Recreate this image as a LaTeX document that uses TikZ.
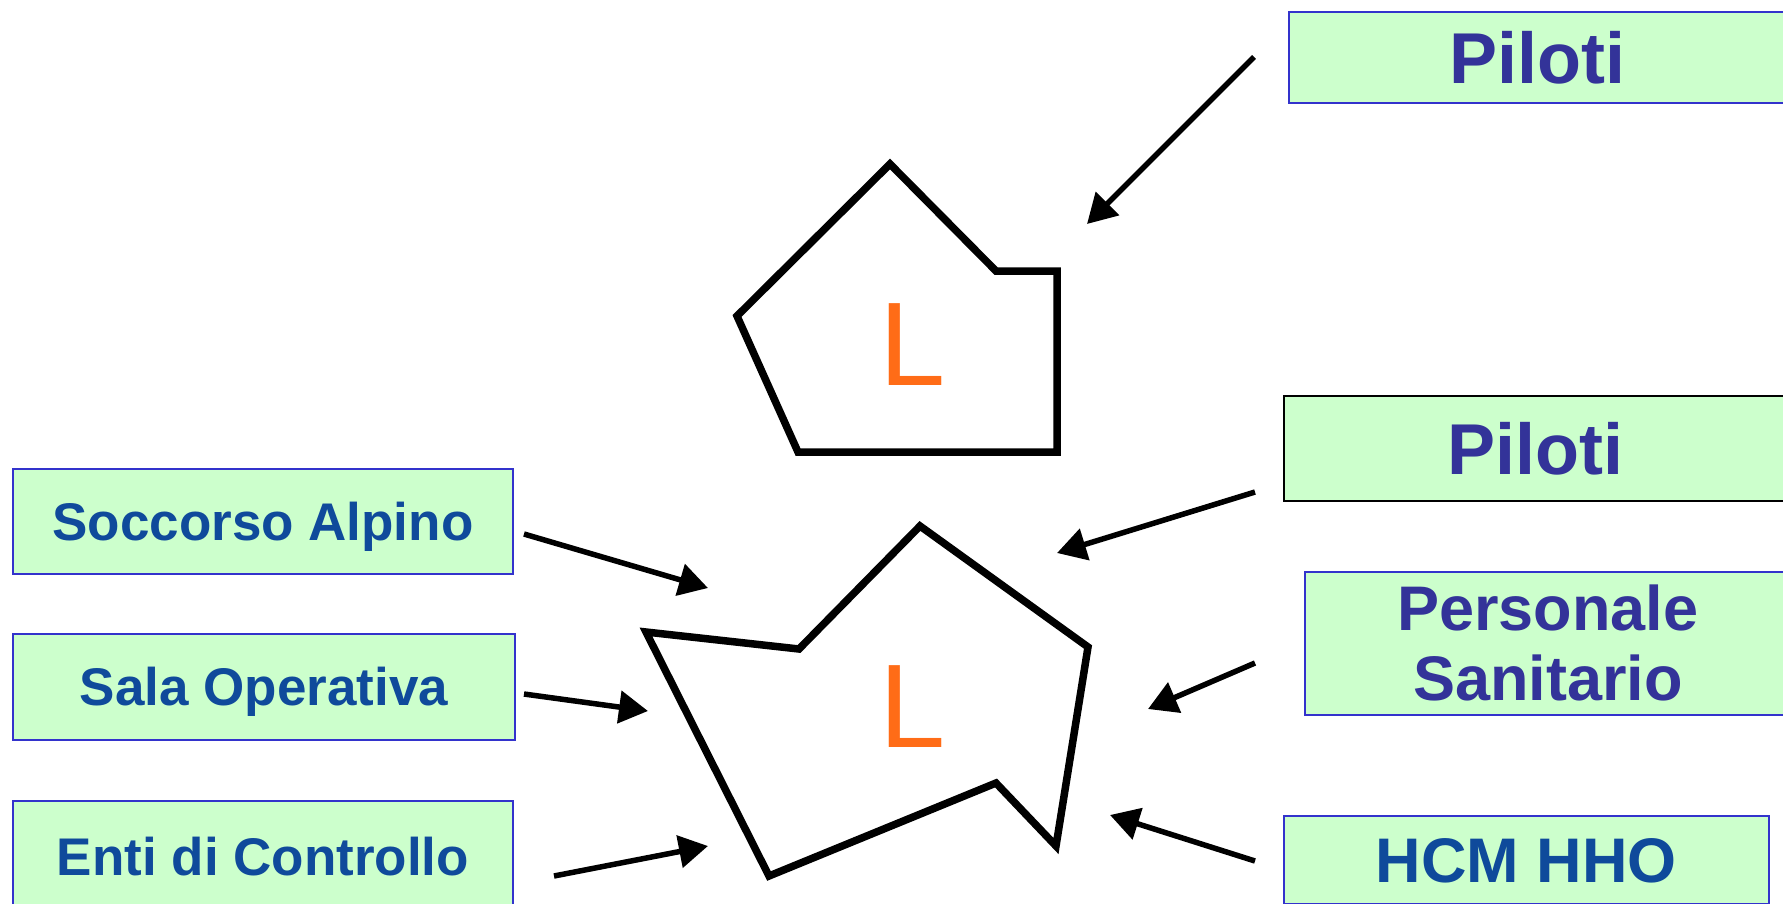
\documentclass[tikz,border=0pt]{standalone}
\usepackage{fontspec}
\setmainfont{Liberation Sans}
\usetikzlibrary{arrows.meta}
\definecolor{boxfill}{HTML}{CCFFCC}
\definecolor{boxline}{HTML}{3333CC}
\definecolor{txtA}{HTML}{333399}
\definecolor{txtB}{HTML}{0F4A9B}
\definecolor{lorange}{HTML}{FF6C17}
\begin{document}
\begin{tikzpicture}[x=1pt,y=-1pt,
  box/.style={draw=boxline, line width=1.8pt, fill=boxfill, anchor=north west,
    inner sep=0pt, text depth=0pt},
  bigtxt/.style={font=\fontsize{72}{80}\selectfont\bfseries, text=txtA, text height=51.5pt},
  midtxt/.style={font=\fontsize{63}{70}\selectfont\bfseries},
  smalltxt/.style={font=\fontsize{53}{60}\selectfont\bfseries, text=txtB, text height=38pt},
  arr/.style={line width=5.5pt, -{Triangle[length=29pt,width=32pt]}},
  poly/.style={line width=7.5pt, line join=miter},
  lett/.style={font=\fontsize{119}{130}\selectfont, text=lorange, anchor=base, inner sep=0pt}
]
\useasboundingbox (0,0) rectangle (1783,903);

% right boxes
\node[box, bigtxt, minimum width=498pt, minimum height=91pt] (pil1) at (1288,11) {Piloti};
\node[box, bigtxt, draw=black, minimum width=504pt, minimum height=105pt] (pil2) at (1283,395) {Piloti};
\node[draw=boxline, line width=1.8pt, fill=boxfill, anchor=north west, inner sep=0pt,
  midtxt, text=txtA, align=center, minimum width=486pt, minimum height=143pt] (pers) at (1304,571) {Personale\\Sanitario};
\node[box, midtxt, text=txtB, text height=45pt, minimum width=485pt, minimum height=88pt] (hcm) at (1283,815) {HCM HHO};

% left boxes
\node[box, smalltxt, minimum width=500pt, minimum height=105pt] (socc) at (12,468) {Soccorso Alpino};
\node[box, smalltxt, minimum width=502pt, minimum height=106pt] (sala) at (12,633) {Sala Operativa};
\node[box, smalltxt, minimum width=500pt, minimum height=112pt] (enti) at (12,800) {Enti di Controllo};

% polygons
\draw[poly] (890,164) -- (996,271) -- (1057,271) -- (1057,452) -- (798,452) -- (737,316) -- cycle;
\draw[poly] (646,632) -- (799,649) -- (920,526) -- (1088,647) -- (1056,846) -- (996,783) -- (769,876) -- cycle;

\node[lett] (l1) at (913,385) {L};
\node[lett] (l2) at (913,747) {L};

% arrow endpoints
\coordinate (a1s) at (1254,57);   \coordinate (a1e) at (1087,224);
\coordinate (a2s) at (1255,492);  \coordinate (a2e) at (1057,553);
\coordinate (a3s) at (1255,663);  \coordinate (a3e) at (1148,709);
\coordinate (a4s) at (1255,861);  \coordinate (a4e) at (1110,815);
\coordinate (b1s) at (524,534);   \coordinate (b1e) at (708,588);
\coordinate (b2s) at (524,694);   \coordinate (b2e) at (648,711);
\coordinate (b3s) at (554,876);   \coordinate (b3e) at (708,846);

\draw[arr] (a1s) -- (a1e);
\draw[arr] (a2s) -- (a2e);
\draw[arr] (a3s) -- (a3e);
\draw[arr] (a4s) -- (a4e);
\draw[arr] (b1s) -- (b1e);
\draw[arr] (b2s) -- (b2e);
\draw[arr] (b3s) -- (b3e);
\end{tikzpicture}
\end{document}
